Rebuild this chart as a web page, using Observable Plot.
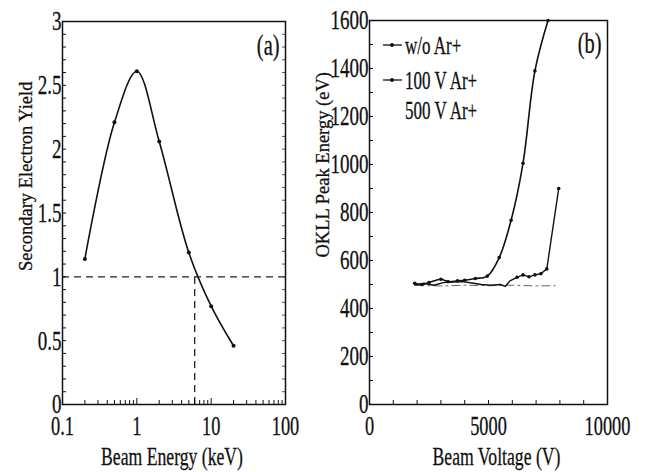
<!DOCTYPE html>
<html>
<head>
<meta charset="utf-8">
<script src="https://cdn.jsdelivr.net/npm/d3@7"></script>
<script src="https://cdn.jsdelivr.net/npm/@observablehq/plot@0.6"></script>
<style>
  html, body { margin: 0; padding: 0; background: #fff; }
  #wrap { display: flex; width: 645px; height: 472px; background: #fff; }
  svg { overflow: visible; }
  svg text { stroke: #111; stroke-width: 0.3px; }
</style>
</head>
<body>
<div id="wrap"></div>
<script>
// ---------- Panel (a): secondary electron yield ----------
const energyKeV = [0.2, 0.5, 1, 2, 5, 10, 20];
const seYield   = [1.14, 2.21, 2.61, 2.06, 1.19, 0.77, 0.46];
const unityYield = [1];
const crossoverKeV = [6];
const xTicksA = [0.1, 1, 10, 100];
const xMinorA = [0.2,0.3,0.4,0.5,0.6,0.7,0.8,0.9, 2,3,4,5,6,7,8,9, 20,30,40,50,60,70,80,90];
const yTicksA = [0, 0.5, 1, 1.5, 2, 2.5, 3];

// ---------- Panel (b): OKLL peak energy ----------
const voltWoAr = [1900, 2200, 2500, 3000, 3300, 3700, 4000, 4450, 4950, 5450, 5950, 6450, 6950, 7500];
const peakWoAr = [505, 500, 508, 522, 512, 515, 518, 525, 535, 612, 768, 1005, 1390, 1600];
const volt100V = [1900, 2300, 2700, 3100, 3500, 3900, 4300, 4700, 5100, 5500, 5700, 5900, 6200, 6450, 6700, 6950, 7200, 7450, 7950];
const peak100V = [498, 505, 497, 508, 510, 512, 506, 500, 497, 500, 492, 515, 530, 540, 532, 540, 545, 565, 900];
const volt500V = [1950, 3000, 4000, 5000, 6000, 7000, 7800];
const peak500V = [496, 494, 497, 495, 497, 494, 495];
const xTicksB = [0, 5000, 10000];
const xMinorB = [1000,2000,3000,4000,6000,7000,8000,9000];
const yTicksB = [0, 200, 400, 600, 800, 1000, 1200, 1400, 1600];
const yMinorB = [100,300,500,700,900,1100,1300,1500];
const seriesNames = ["w/o Ar+", "100 V Ar+", "500 V Ar+"];

const font = "Liberation Serif, Times New Roman, serif";
const dataA = energyKeV.map((e, i) => ({e, y: seYield[i]}));
const zip = (xs, ys) => xs.map((x, i) => ({x, y: ys[i]}));
const dataWoAr = zip(voltWoAr, peakWoAr);
const data100V = zip(volt100V, peak100V);
const data500V = zip(volt500V, peak500V);

// Panel a
const WA = 310, HA = 472, mlA = 62, mrA = 25, mtA = 21, mbA = 68;
const pwA = WA - mlA - mrA, phA = HA - mtA - mbA;
const plotA = Plot.plot({
  width: WA, height: HA,
  marginLeft: mlA, marginRight: mrA, marginTop: mtA, marginBottom: mbA,
  style: {fontFamily: font, fontSize: "27px", color: "#111", background: "white"},
  x: {type: "log", domain: [0.1, 100]},
  y: {domain: [0, 3]},
  marks: [
    Plot.ruleY(unityYield, {stroke: "#222", strokeWidth: 1.3, strokeDasharray: "7,5"}),
    Plot.ruleX(crossoverKeV, {y1: 0, y2: 1, stroke: "#222", strokeWidth: 1.3, strokeDasharray: "7,5"}),
    Plot.line(dataA, {x: "e", y: "y", curve: "catmull-rom", stroke: "#111", strokeWidth: 1.6}),
    Plot.dot(dataA, {x: "e", y: "y", r: 2, fill: "#111"}),
    Plot.tickX(xMinorA, {x: d => d, insetTop: phA - 4, stroke: "#111"}),
    Plot.tickX(xTicksA, {x: d => d, insetTop: phA - 6, stroke: "#111"}),
    Plot.tickY(d3.range(0, 3.001, 0.1), {y: d => d, insetRight: pwA - 4, stroke: "#111"}),
    Plot.tickY(d3.range(0, 3.001, 0.1), {y: d => d, insetLeft: pwA - 3, stroke: "#555"}),
    Plot.axisX({ticks: xTicksA, tickSize: 0, tickPadding: 11, fontSize: 27, label: null, tickFormat: d => String(d)}),
    Plot.axisY({ticks: yTicksA, tickSize: 0, tickPadding: 1, fontSize: 28, label: null, tickFormat: d => String(d)}),
    Plot.frame({stroke: "#111", strokeWidth: 1.5}),
    Plot.text(["(a)"], {text: d => d, frameAnchor: "top-right", dx: -6, dy: 24, fontSize: 30, textAnchor: "end", lineAnchor: "middle"}),
    Plot.text(["Beam Energy (keV)"], {text: d => d, frameAnchor: "bottom", dx: -2, dy: 52, fontSize: 26, lineAnchor: "middle"}),
    Plot.text(["Secondary Electron Yield"], {text: d => d, frameAnchor: "left", rotate: -90, dx: -36, dy: 58, fontSize: 18.5, lineAnchor: "middle"})
  ]
});

// Panel b
const WB = 335, HB = 472, mlB = 59, mrB = 38, mtB = 20, mbB = 68;
const pwB = WB - mlB - mrB, phB = HB - mtB - mbB;
function legendB(index, scales, values, dims) {
  const g = d3.create("svg:g");
  const x0 = dims.marginLeft, y0 = dims.marginTop;
  const rows = [25, 60, 90];
  seriesNames.forEach((name, i) => {
    const y = y0 + rows[i];
    if (i < 2) {
      g.append("line").attr("x1", x0 + 14).attr("x2", x0 + 33).attr("y1", y).attr("y2", y)
        .attr("stroke", "#111").attr("stroke-width", 1.3);
      g.append("circle").attr("cx", x0 + 23).attr("cy", y).attr("r", 2).attr("fill", "#111");
    }
    g.append("text").attr("x", x0 + 36).attr("y", y).attr("dy", "0.35em")
      .attr("text-anchor", "start")
      .attr("font-size", 25).attr("fill", "#111").text(name);
  });
  return g.node();
}
const plotB = Plot.plot({
  width: WB, height: HB,
  marginLeft: mlB, marginRight: mrB, marginTop: mtB, marginBottom: mbB,
  style: {fontFamily: font, fontSize: "27px", color: "#111", background: "white"},
  x: {domain: [0, 10000]},
  y: {domain: [0, 1600]},
  marks: [
    Plot.line(data500V, {x: "x", y: "y", stroke: "#666", strokeWidth: 1, strokeDasharray: "8,4,2,4"}),
    Plot.line(data100V, {x: "x", y: "y", stroke: "#111", strokeWidth: 1.4}),
    Plot.line(dataWoAr, {x: "x", y: "y", curve: "catmull-rom", stroke: "#111", strokeWidth: 1.6}),
    Plot.dot(dataWoAr, {x: "x", y: "y", r: 1.8, fill: "#111"}),
    Plot.dot(data100V.filter((d, i) => i >= 12), {x: "x", y: "y", r: 1.8, fill: "#111"}),
    Plot.tickX(xMinorB.concat(xTicksB), {x: d => d, insetTop: phB - 4, stroke: "#111"}),
    Plot.tickY(yMinorB.concat(yTicksB), {y: d => d, insetRight: pwB - 4, stroke: "#111"}),
    Plot.axisX({ticks: xTicksB, tickSize: 0, tickPadding: 11, fontSize: 27, label: null, tickFormat: d => String(d)}),
    Plot.axisY({ticks: yTicksB, tickSize: 0, tickPadding: 1, fontSize: 28, label: null, tickFormat: d => String(d)}),
    Plot.frame({stroke: "#111", strokeWidth: 1.5}),
    Plot.text(["(b)"], {text: d => d, frameAnchor: "top-right", dx: -6, dy: 23, fontSize: 30, textAnchor: "end", lineAnchor: "middle"}),
    Plot.text(["Beam Voltage (V)"], {text: d => d, frameAnchor: "bottom", dx: 8, dy: 52, fontSize: 26, lineAnchor: "middle"}),
    Plot.text(["OKLL Peak Energy (eV)"], {text: d => d, frameAnchor: "left", rotate: -90, dx: -46, dy: 45, fontSize: 18.5, lineAnchor: "middle"}),
    legendB
  ]
});

const wrap = document.getElementById("wrap");
wrap.appendChild(plotA);
wrap.appendChild(plotB);

// The reference's lettering is horizontally condensed: squeeze each upright
// text around its own anchor point.
function condense(svg, k) {
  const SVGNS = "http://www.w3.org/2000/svg";
  Array.from(svg.querySelectorAll("text")).forEach(t => {
    const parent = t.parentNode;
    const tr = (t.getAttribute("transform") || "") + (parent.getAttribute("transform") || "");
    if (tr.includes("rotate")) return;
    const m = parent.getScreenCTM().inverse().multiply(t.getScreenCTM());
    let x = parseFloat(t.getAttribute("x")); if (!isFinite(x)) x = 0;
    let y = parseFloat(t.getAttribute("y")); if (!isFinite(y)) y = 0;
    const ax = m.a * x + m.c * y + m.e;
    const g = document.createElementNS(SVGNS, "g");
    g.setAttribute("transform", `translate(${ax},0) scale(${k},1) translate(${-ax},0)`);
    parent.insertBefore(g, t);
    g.appendChild(t);
  });
}
condense(plotA, 0.68);
condense(plotB, 0.68);
</script>
</body>
</html>
